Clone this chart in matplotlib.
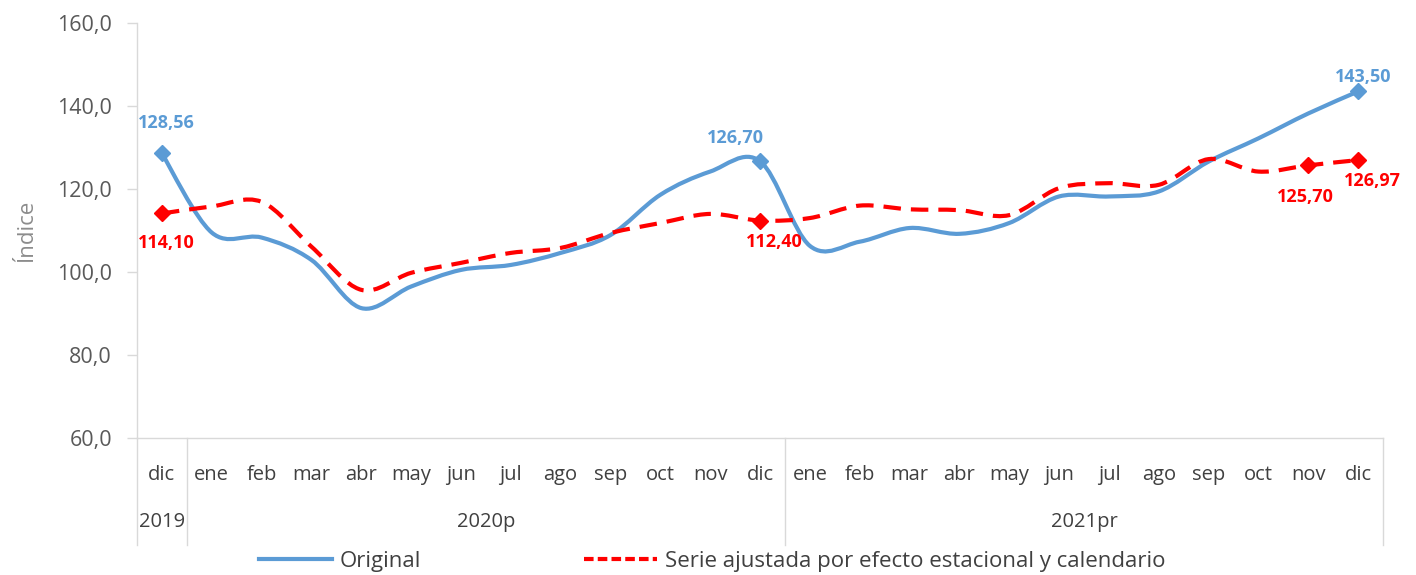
import matplotlib
matplotlib.use("Agg")
import matplotlib.pyplot as plt
from matplotlib.path import Path
from matplotlib.patches import PathPatch
from matplotlib.lines import Line2D
from matplotlib.ticker import FuncFormatter, MultipleLocator
import numpy as np

plt.rcParams['font.family'] = ['Open Sans', 'DejaVu Sans']

months = ["dic", "ene", "feb", "mar", "abr", "may", "jun", "jul", "ago", "sep", "oct", "nov", "dic",
          "ene", "feb", "mar", "abr", "may", "jun", "jul", "ago", "sep", "oct", "nov", "dic"]
years = ["2019", "2020p", "2021pr"]
year_spans = [(0, 0), (1, 12), (13, 24)]

original = [128.56, 109.5, 108.3, 102.9, 91.3, 96.5, 100.5, 101.7, 104.6, 108.9, 118.6, 124.2, 126.70,
            106.3, 107.3, 110.6, 109.2, 111.8, 118.2, 118.2, 119.4, 126.6, 132.2, 138.2, 143.50]
ajustada = [114.10, 115.8, 116.9, 106.1, 95.7, 99.8, 102.2, 104.6, 105.8, 109.4, 111.8, 114.0, 112.40,
            113.0, 116.0, 115.1, 114.9, 113.7, 120.2, 121.4, 121.0, 127.2, 124.2, 125.70, 126.97]

orig_marked = [0, 12, 24]
aj_marked = [0, 12, 23, 24]

BLUE = "#5B9BD5"
RED = "#FF0000"
GRID = "#D9D9D9"


def smooth_path(xs, ys):
    pts = np.column_stack([xs, ys]).astype(float)
    n = len(pts)
    verts = [pts[0]]
    codes = [Path.MOVETO]
    for i in range(n - 1):
        p0 = pts[i - 1] if i > 0 else pts[i]
        p1 = pts[i]
        p2 = pts[i + 1]
        p3 = pts[i + 2] if i + 2 < n else pts[i + 1]
        c1 = p1 + (p2 - p0) / 6.0
        c2 = p2 - (p3 - p1) / 6.0
        verts += [c1, c2, p2]
        codes += [Path.CURVE4] * 3
    return Path(verts, codes)


fig = plt.figure(figsize=(14.16, 5.75), dpi=100)
ax = fig.add_axes([137 / 1416, 1 - 438 / 575, (1383 - 137) / 1416, (438 - 23) / 575])

x = np.arange(len(months))

ax.add_patch(PathPatch(smooth_path(x, original), facecolor="none", edgecolor=BLUE,
                       lw=3, capstyle="round", joinstyle="round", zorder=3))
ax.add_patch(PathPatch(smooth_path(x, ajustada), facecolor="none", edgecolor=RED,
                       lw=3, linestyle=(0, (4.2, 2.4)), capstyle="butt", zorder=4))

ax.plot([x[i] for i in orig_marked], [original[i] for i in orig_marked], ls="none",
        marker="D", ms=8, color=BLUE, zorder=5)
ax.plot([x[i] for i in aj_marked], [ajustada[i] for i in aj_marked], ls="none",
        marker="D", ms=8, color=RED, zorder=6)


def fmt(v):
    return f"{v:.2f}".replace(".", ",")


orig_offsets = {0: (3, 22), 12: (-18, 17), 24: (4, 10.5)}
aj_offsets = {0: (3, -21), 12: (10, -15.5), 23: (-2, -23), 24: (10, -15)}
for i, off in orig_offsets.items():
    ax.annotate(fmt(original[i]), (x[i], original[i]), xytext=off, textcoords="offset points",
                ha="center", va="center", color=BLUE, fontsize=13, fontweight="bold", zorder=7)
for i, off in aj_offsets.items():
    ax.annotate(fmt(ajustada[i]), (x[i], ajustada[i]), xytext=off, textcoords="offset points",
                ha="center", va="center", color=RED, fontsize=13, fontweight="bold", zorder=7)

ax.set_xlim(-0.5, len(months) - 0.5)
ax.set_ylim(60, 160)
ax.yaxis.set_major_locator(MultipleLocator(20))
ax.yaxis.set_major_formatter(FuncFormatter(lambda v, p: f"{v:.1f}".replace(".", ",")))
ax.tick_params(axis="y", direction="out", length=7, width=1, color=GRID, pad=11,
               labelsize=15.5, labelcolor="#595959")
ax.set_xticks([])
for s in ["top", "right"]:
    ax.spines[s].set_visible(False)
ax.spines["left"].set_color(GRID)
ax.spines["bottom"].set_color(GRID)
ax.spines["left"].set_linewidth(1)
ax.spines["bottom"].set_linewidth(1)

ax.set_ylabel("Índice", fontsize=16, color="#8C8C8C", labelpad=14)

trans = ax.get_xaxis_transform()
for i, m in enumerate(months):
    ax.text(x[i], -37 / 415, m, transform=trans, ha="center", va="center",
            fontsize=14.5, color="#404040", clip_on=False)
for (a, b), yl in zip(year_spans, years):
    ax.text((a + b) / 2, -84 / 415, yl, transform=trans, ha="center", va="center",
            fontsize=14.5, color="#404040", clip_on=False)
sep_x = [-0.5] + [b + 0.5 for a, b in year_spans]
for sx in sep_x:
    ax.add_line(Line2D([sx, sx], [0, -107 / 415], transform=trans, color=GRID, lw=1, clip_on=False))

handles = [Line2D([], [], color=BLUE, lw=3),
           Line2D([], [], color=RED, lw=3, linestyle=(0, (2.3, 1.0)))]
fig.legend(handles, ["Original", "Serie ajustada por efecto estacional y calendario"],
           loc="center", bbox_to_anchor=(712 / 1416, 1 - 561 / 575), ncol=2, frameon=False,
           fontsize=16, handlelength=3.3, handletextpad=0.35, columnspacing=7.3,
           labelcolor="#404040")

fig.savefig("out.png", dpi=100)
